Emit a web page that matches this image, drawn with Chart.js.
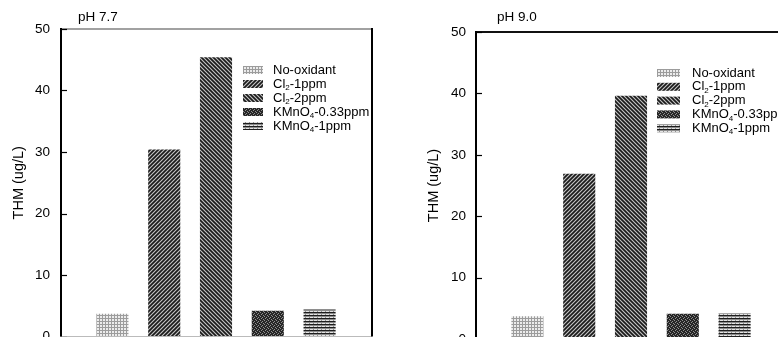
<!DOCTYPE html>
<html>
<head>
<meta charset="utf-8">
<script src="https://cdn.jsdelivr.net/npm/chart.js@4.4.1/dist/chart.umd.min.js"></script>
<style>
  html, body { margin:0; padding:0; background:#fff; }
  body { width:778px; height:337px; overflow:hidden; position:relative; }
  canvas { position:absolute; top:0; }
  #c1 { left:0; }
  #c2 { left:390px; }
</style>
</head>
<body>
<canvas id="c1" width="390" height="380"></canvas>
<canvas id="c2" width="420" height="380"></canvas>
<script>
// ---- data ----
const categories = ['THM'];
const seriesLabels = ['No-oxidant', 'Cl₂-1ppm', 'Cl₂-2ppm', 'KMnO₄-0.33ppm', 'KMnO₄-1ppm'];
const ph77Values = [3.7, 30.4, 45.4, 4.2, 4.4];
const ph90Values = [3.7, 26.9, 39.6, 4.1, 4.2];
const yTicks = [0, 10, 20, 30, 40, 50];
const panelTitles = ['pH 7.7', 'pH 9.0'];
const yAxisTitle = 'THM (ug/L)';

// ---- patterns ----
const helperCtx = document.createElement('canvas').getContext('2d');
function makePattern(w, h, draw) {
  const c = document.createElement('canvas');
  c.width = w; c.height = h;
  const g = c.getContext('2d');
  draw(g, w, h);
  return helperCtx.createPattern(c, 'repeat');
}
const patNoOx = makePattern(3, 3, (g) => {
  g.fillStyle = '#ececec'; g.fillRect(0, 0, 3, 3);
  g.fillStyle = '#9c9c9c'; g.fillRect(0, 0, 3, 1); g.fillRect(0, 0, 1, 3);
});
function diag(g, s, dir) {
  g.fillStyle = '#c4c4c4'; g.fillRect(0, 0, s, s);
  g.strokeStyle = '#1a1a1a'; g.lineWidth = 1.7;
  g.beginPath();
  if (dir > 0) {
    g.moveTo(0, s); g.lineTo(s, 0);
    g.moveTo(-1, 1); g.lineTo(1, -1);
    g.moveTo(s - 1, s + 1); g.lineTo(s + 1, s - 1);
  } else {
    g.moveTo(0, 0); g.lineTo(s, s);
    g.moveTo(-1, s - 1); g.lineTo(1, s + 1);
    g.moveTo(s - 1, -1); g.lineTo(s + 1, 1);
  }
  g.stroke();
}
const patCl1 = makePattern(4, 4, (g, s) => diag(g, s, 1));
const patCl2 = makePattern(4, 4, (g, s) => diag(g, s, -1));
const patK033 = makePattern(4, 4, (g) => {
  g.fillStyle = '#262626'; g.fillRect(0, 0, 4, 4);
  g.fillStyle = '#8e8e8e';
  g.fillRect(0, 0, 1, 1); g.fillRect(2, 1, 1, 1); g.fillRect(1, 2, 1, 1); g.fillRect(3, 3, 1, 1);
});
const patK1 = makePattern(4, 3, (g) => {
  g.fillStyle = '#1e1e1e'; g.fillRect(0, 0, 4, 1);
  g.fillStyle = '#8c8c8c'; g.fillRect(0, 1, 4, 1);
  g.fillStyle = '#e4e4e4'; g.fillRect(0, 2, 4, 1);
  g.fillStyle = '#909090'; g.fillRect(1, 2, 1, 1);
});
const patterns = [patNoOx, patCl1, patCl2, patK033, patK1];

// ---- text helper: draw subscript digits smaller and lowered ----
const subMap = { '₀':'0','₁':'1','₂':'2','₃':'3','₄':'4','₅':'5','₆':'6','₇':'7','₈':'8','₉':'9' };
function drawRich(ctx, text, x, y, size) {
  let cx = x;
  let buf = '';
  const flush = () => {
    if (!buf) return;
    ctx.font = size + 'px "Liberation Sans", Arial, sans-serif';
    ctx.fillText(buf, cx, y);
    cx += ctx.measureText(buf).width;
    buf = '';
  };
  for (const ch of text) {
    if (subMap[ch]) {
      flush();
      const ss = Math.round(size * 0.62);
      ctx.font = ss + 'px "Liberation Sans", Arial, sans-serif';
      ctx.fillText(subMap[ch], cx, y + size * 0.3);
      cx += ctx.measureText(subMap[ch]).width;
    } else buf += ch;
  }
  flush();
}

// ---- decoration plugin ----
function decoPlugin(cfg) {
  return {
    id: 'deco',
    afterDraw(chart) {
      const ctx = chart.ctx;
      const a = chart.chartArea;
      const y = chart.scales.y;
      ctx.save();
      // frame
      ctx.strokeStyle = cfg.topColor; ctx.lineWidth = cfg.topWidth;
      ctx.beginPath(); ctx.moveTo(a.left, a.top); ctx.lineTo(a.right, a.top); ctx.stroke();
      ctx.strokeStyle = '#bbbbbb'; ctx.lineWidth = 1;
      ctx.beginPath(); ctx.moveTo(a.left, a.bottom); ctx.lineTo(a.right, a.bottom); ctx.stroke();
      ctx.strokeStyle = '#000'; ctx.lineWidth = 2;
      ctx.beginPath(); ctx.moveTo(a.left + 1, a.top - 1); ctx.lineTo(a.left + 1, a.bottom); ctx.stroke();
      ctx.beginPath(); ctx.moveTo(a.right, a.top - 1); ctx.lineTo(a.right, a.bottom); ctx.stroke();
      // inward ticks
      ctx.lineWidth = 1.2;
      yTicks.forEach(v => {
        const py = Math.round(y.getPixelForValue(v)) + 0.5;
        ctx.beginPath(); ctx.moveTo(a.left + 1, py); ctx.lineTo(a.left + 7, py); ctx.stroke();
      });
      // panel title
      ctx.fillStyle = '#000';
      ctx.textBaseline = 'middle';
      ctx.textAlign = 'left';
      ctx.font = '13.5px "Liberation Sans", Arial, sans-serif';
      ctx.fillText(cfg.title, cfg.titleX, cfg.titleY);
      // legend
      chart.data.datasets.forEach((ds, i) => {
        const ry = cfg.legY + i * cfg.legStep;
        ctx.fillStyle = ds.backgroundColor;
        ctx.fillRect(cfg.boxX, ry - 4, cfg.boxW, 8);
        ctx.fillStyle = '#000';
        drawRich(ctx, ds.label, cfg.textX, ry, 13);
      });
      ctx.restore();
    }
  };
}

function makeChart(id, values, cfg) {
  const datasets = seriesLabels.map((lab, i) => ({
    label: lab,
    data: [values[i]],
    backgroundColor: patterns[i],
    borderWidth: 0,
    categoryPercentage: 0.83,
    barPercentage: 0.62
  }));
  return new Chart(document.getElementById(id), {
    type: 'bar',
    data: { labels: categories, datasets },
    options: {
      responsive: false,
      animation: false,
      devicePixelRatio: 1,
      layout: { padding: cfg.padding },
      plugins: { legend: { display: false }, title: { display: false }, tooltip: { enabled: false } },
      scales: {
        x: { display: false },
        y: {
          min: 0, max: 50,
          afterBuildTicks: (s) => { s.ticks = yTicks.map(v => ({ value: v })); },
          afterFit: (s) => { s.width = cfg.axisWidth; },
          grid: { display: false, drawTicks: false },
          border: { display: false },
          ticks: {
            color: '#000',
            padding: cfg.tickPad,
            font: { family: '"Liberation Sans", Arial, sans-serif', size: 13.5 }
          },
          title: {
            display: true,
            text: yAxisTitle,
            color: '#000',
            padding: { top: cfg.titlePad, bottom: 0 },
            font: { family: '"Liberation Sans", Arial, sans-serif', size: 14.5 }
          }
        }
      }
    },
    plugins: [decoPlugin(cfg)]
  });
}

makeChart('c1', ph77Values, {
  padding: { left: 0, top: 29, right: 18, bottom: 43.5 },
  axisWidth: 60, tickPad: 10, titlePad: 10,
  topColor: '#444', topWidth: 1.2,
  title: panelTitles[0], titleX: 78, titleY: 17,
  boxX: 243, boxW: 20, textX: 273, legY: 70, legStep: 14
});
makeChart('c2', ph90Values, {
  padding: { left: 0, top: 32, right: 23, bottom: 41 },
  axisWidth: 85, tickPad: 9, titlePad: 35,
  topColor: '#111', topWidth: 2,
  title: panelTitles[1], titleX: 107, titleY: 17,
  boxX: 267, boxW: 23, textX: 302, legY: 73, legStep: 13.8
});
</script>
</body>
</html>
